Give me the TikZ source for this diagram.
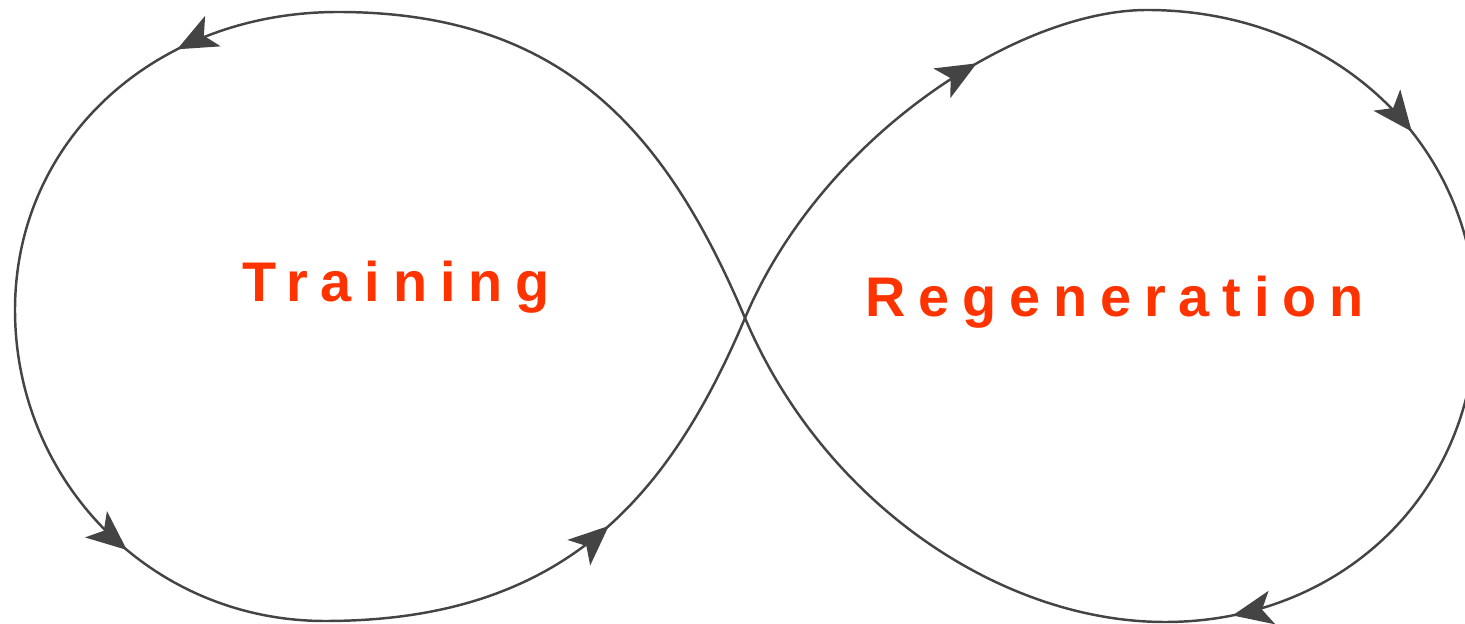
\documentclass[tikz,border=0pt]{standalone}
\usepackage{fontspec}
\usetikzlibrary{arrows.meta,decorations.markings}
\newfontfamily\labelfont[LetterSpace=23]{Liberation Sans}
\definecolor{loopgray}{HTML}{444444}
\definecolor{labelred}{HTML}{FF3300}

\begin{document}
\begin{tikzpicture}[
    x=0.02cm, y=-0.02cm,
    loop/.style={draw=loopgray, line width=1.4pt},
    markat/.style={postaction={decorate, decoration={markings,
        mark=at position #1 with {\arrow[loopgray]{Stealth[length=0.8cm, width=0.68cm, inset=0.2cm]}}}}},
    phase/.style={font=\labelfont\bfseries\fontsize{31.8}{36}\selectfont,
                  text=labelred, inner sep=0pt, anchor=base west}
]
    \useasboundingbox (0,0) rectangle (1465,624);

    % figure-eight points
    \coordinate (cross) at (745,318);
    \coordinate (ltop) at (338,12);
    \coordinate (lleft) at (15,310);
    \coordinate (lbot) at (325,621);
    \coordinate (rtop) at (1147,10);
    \coordinate (rright) at (1476,318);
    \coordinate (rbot) at (1165,622);

    % left loop
    \draw[loop] (cross) .. controls (667,134) and (565,12) .. (ltop);
    \draw[loop, markat=0.34] (ltop) .. controls (155,12) and (15,140) .. (lleft);
    \draw[loop, markat=0.56] (lleft) .. controls (15,480) and (150,621) .. (lbot);
    \draw[loop, markat=0.55] (lbot) .. controls (560,621) and (667,502) .. (cross);

    % right loop
    \draw[loop, markat=0.66] (cross) .. controls (823,134) and (1020,10) .. (rtop);
    \draw[loop, markat=0.6] (rtop) .. controls (1335,10) and (1476,145) .. (rright);
    \draw[loop, markat=0.86] (rright) .. controls (1476,495) and (1340,622) .. (rbot);
    \draw[loop] (rbot) .. controls (1000,622) and (823,502) .. (cross);

    \node[phase] (training) at (242,302) {Training};
    \node[phase] (regen) at (865,317) {Regeneration};
\end{tikzpicture}
\end{document}
